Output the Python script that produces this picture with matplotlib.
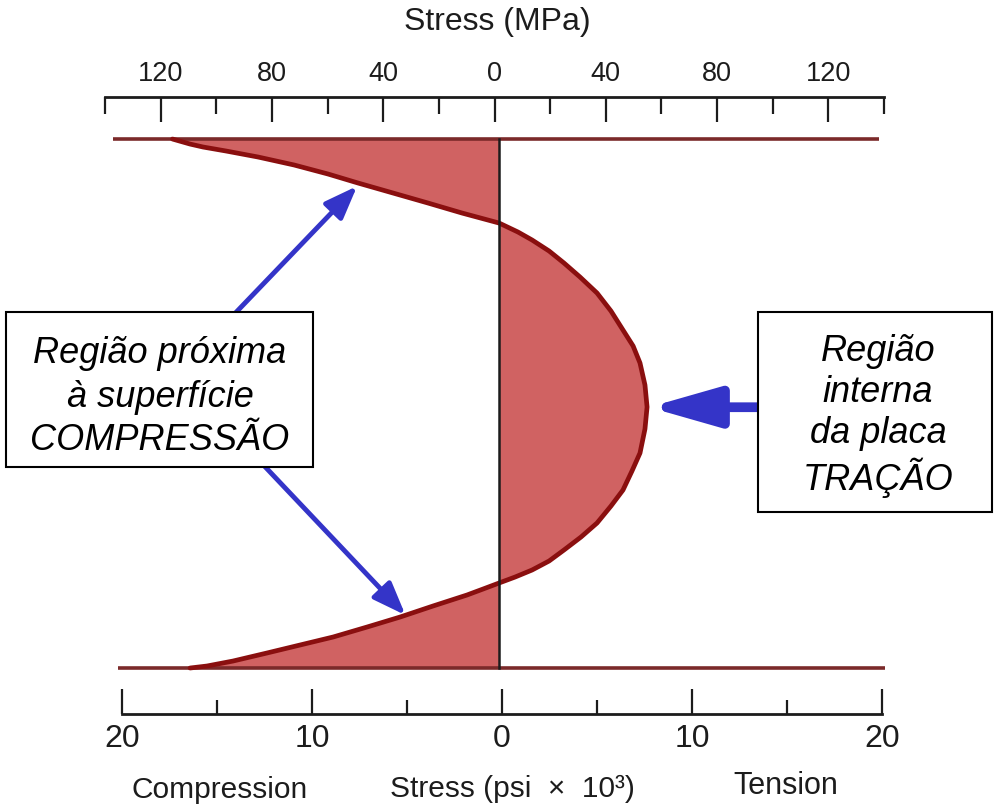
import matplotlib.pyplot as plt
from matplotlib.patches import Rectangle

# profil de contrainte (ksi) en fonction de la profondeur relative (0 = surface haute, 1 = surface basse)
profondeur = [0.0, 0.0095, 0.0151, 0.0227, 0.034, 0.0491, 0.0662, 0.0832, 0.1021, 0.121, 0.1399, 0.1588,
              0.1758, 0.1909, 0.2117, 0.2344, 0.2609, 0.2911, 0.3251, 0.3611, 0.3913, 0.4234, 0.465,
              0.5066, 0.5482, 0.5936, 0.6276, 0.6635, 0.6938, 0.7259, 0.7524, 0.7769, 0.7977, 0.8147,
              0.828, 0.8393, 0.8507, 0.862, 0.8828, 0.9036, 0.9225, 0.9414, 0.9565, 0.9716, 0.9868,
              0.9962, 1.0]
contrainte = [-17.1, -16.18, -15.5, -14.29, -12.62, -10.73, -8.95, -7.38, -5.55, -3.72, -1.94, 0.0,
              0.99, 1.73, 2.62, 3.4, 4.24, 5.13, 5.86, 6.49, 7.02, 7.38, 7.64,
              7.75, 7.64, 7.38, 6.96, 6.49, 5.86, 5.13, 4.29, 3.4, 2.62, 1.73,
              0.84, 0.0, -0.84, -1.68, -3.46, -5.18, -6.91, -8.69, -10.42, -12.15, -13.93,
              -15.29, -16.18]

ticks_psi = [-20, -10, 0, 10, 20]
ticks_psi_min = [-15, -5, 5, 15]
labels_psi = ["20", "10", "0", "10", "20"]
ticks_mpa = [-120, -80, -40, 0, 40, 80, 120]
ticks_mpa_min = [-140, -100, -60, -20, 20, 60, 100, 140]
labels_mpa = ["120", "80", "40", "0", "40", "80", "120"]

texte_gauche = "Região próxima\nà superfície\nCOMPRESSÃO"
texte_droite = "Região\ninterna\nda placa\nTRAÇÃO"

W, H = 996, 809
fig = plt.figure(figsize=(W / 100, H / 100), dpi=100)
police = "Liberation Sans"
encre = "#1c1c1c"
bleu = "#3434c8"

ax = fig.add_axes([0, 0, 1, 1])
ax.set_xlim(-26.13, 26.02)
ax.set_ylim(1.2665, -0.2628)
ax.axis("off")

# plaque
ax.plot([-20.2, 19.9], [0, 0], color="#7b2a2a", lw=2.6, solid_capstyle="butt")
ax.plot([-19.95, 20.2], [1, 1], color="#7b2a2a", lw=2.6, solid_capstyle="butt")

ax.fill_betweenx(profondeur, contrainte, 0, color="#d06262", lw=0)
ax.plot(contrainte, profondeur, color="#8a0f0f", lw=3.4, solid_joinstyle="round", solid_capstyle="round")
ax.plot([0, 0], [0, 1], color=encre, lw=1.8)

# fleches
petite = dict(arrowstyle="-|>,head_length=1.0,head_width=0.38", color=bleu, lw=3.5,
              mutation_scale=20, shrinkA=0, shrinkB=0)
grande = dict(arrowstyle="-|>,head_length=2.1,head_width=0.6", color=bleu, lw=7,
              mutation_scale=20, shrinkA=0, shrinkB=0)
ax.annotate("", xy=(-7.43, 0.089), xytext=(-14.1, 0.34), arrowprops=petite, zorder=3)
ax.annotate("", xy=(-4.9, 0.90), xytext=(-12.5, 0.61), arrowprops=petite, zorder=3)
ax.annotate("", xy=(7.85, 0.507), xytext=(13.7, 0.507), arrowprops=grande, zorder=3)

# boites
ax.add_patch(Rectangle((-25.81, 0.327), 16.07, 0.293, facecolor="white", edgecolor="black", lw=1.5, zorder=5))
ax.add_patch(Rectangle((13.56, 0.327), 12.25, 0.378, facecolor="white", edgecolor="black", lw=1.5, zorder=5))
ax.text(-17.75, 0.488, texte_gauche, family=police, style="italic", fontsize=26,
        ha="center", va="center", linespacing=1.32, zorder=6)
ax.text(19.84, 0.524, texte_droite, family=police, style="italic", fontsize=26,
        ha="center", va="center", linespacing=1.22, zorder=6)

# echelle MPa en haut
ax_haut = fig.add_axes([105 / W, 1 - 97 / H - 0.01, 779 / W, 0.01])
ax_haut.set_xlim(-140, 140)
ax_haut.patch.set_alpha(0)
for s in ["left", "right", "bottom"]:
    ax_haut.spines[s].set_visible(False)
ax_haut.spines["top"].set_linewidth(2)
ax_haut.spines["top"].set_color(encre)
ax_haut.set_yticks([])
ax_haut.xaxis.tick_top()
ax_haut.set_xticks(ticks_mpa)
ax_haut.set_xticklabels(labels_mpa, family=police, fontsize=19.5, color=encre)
ax_haut.set_xticks(ticks_mpa_min, minor=True)
ax_haut.tick_params(axis="x", which="major", direction="in", length=18, width=1.6, pad=7, color=encre)
ax_haut.tick_params(axis="x", which="minor", direction="in", length=12, width=1.6, color=encre)
fig.text(497 / W, 1 - 22 / H, "Stress (MPa)", family=police, fontsize=23, color=encre, ha="center", va="center")

# echelle psi en bas
ax_bas = fig.add_axes([122 / W, 1 - 714 / H, 760 / W, 0.01])
ax_bas.set_xlim(-20, 20)
ax_bas.patch.set_alpha(0)
for s in ["left", "right", "top"]:
    ax_bas.spines[s].set_visible(False)
ax_bas.spines["bottom"].set_linewidth(2)
ax_bas.spines["bottom"].set_color(encre)
ax_bas.set_yticks([])
ax_bas.set_xticks(ticks_psi)
ax_bas.set_xticklabels(labels_psi, family=police, fontsize=23, color=encre)
ax_bas.set_xticks(ticks_psi_min, minor=True)
ax_bas.tick_params(axis="x", which="major", direction="in", length=18, width=1.6, pad=7, color=encre)
ax_bas.tick_params(axis="x", which="minor", direction="in", length=10, width=1.6, color=encre)

fig.text(220 / W, 1 - 790 / H, "Compression", family=police, fontsize=21.5, color=encre, ha="center", va="center")
fig.text(512 / W, 1 - 789 / H, "Stress (psi  ×  10³)", family=police, fontsize=21.5, color=encre, ha="center", va="center")
fig.text(786 / W, 1 - 786 / H, "Tension", family=police, fontsize=22, color=encre, ha="center", va="center")

fig.savefig("out.png", dpi=100)
